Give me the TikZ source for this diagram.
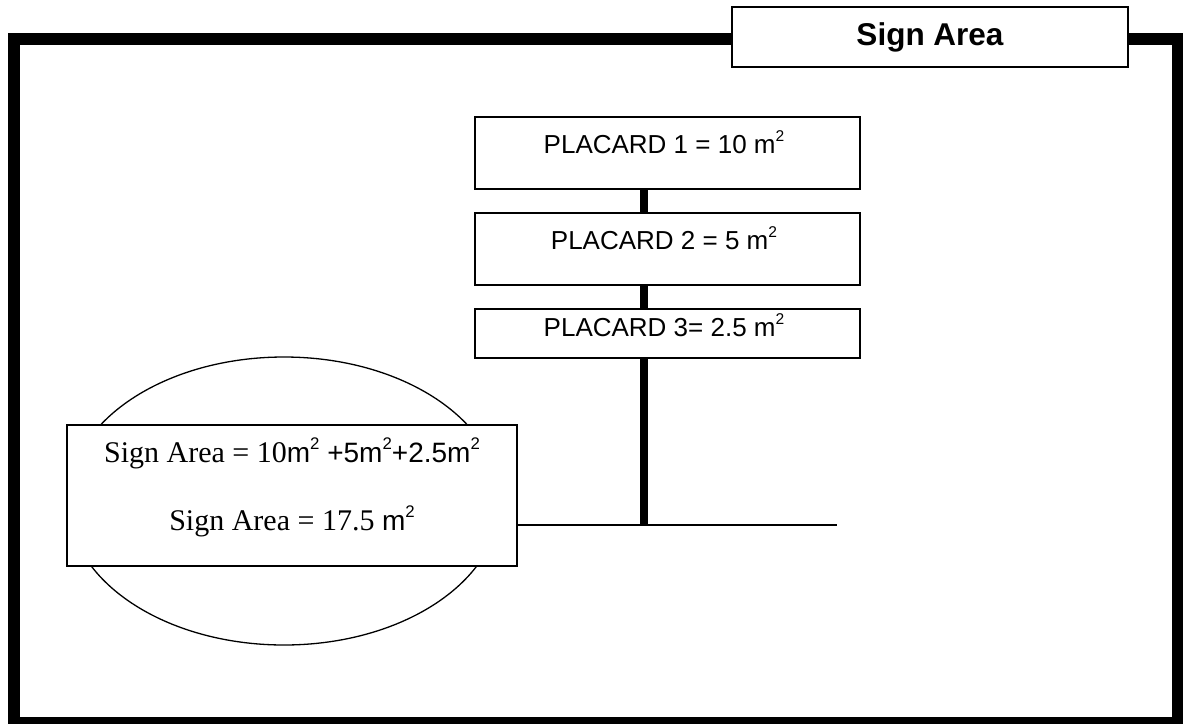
\documentclass[tikz,border=0pt]{standalone}
\usepackage{graphicx}
\usepackage{fontspec}
\setmainfont{Liberation Sans}
\newfontfamily\arialf{Liberation Sans}
\newfontfamily\timesf{Liberation Serif}
\newcommand\mysup[1]{\raisebox{0.45em}{\scalebox{0.6}{#1}}}
\begin{document}
\begin{tikzpicture}[x=1pt,y=-1pt,
  framestyle/.style={line width=12pt, line join=miter},
  titlebox/.style={draw, line width=1.6pt, fill=white, minimum width=396pt, minimum height=60pt, inner sep=0pt,
    font=\arialf\bfseries\fontsize{31.5}{36}\selectfont},
  placardbox/.style={draw, line width=1.6pt, fill=white, minimum width=385pt, inner sep=0pt},
  placardtext/.style={anchor=base, inner sep=0pt, font=\arialf\fontsize{26}{30}\selectfont},
  sumbox/.style={draw, line width=1.8pt, fill=white, minimum width=450pt, minimum height=141pt, inner sep=0pt},
  sumtext/.style={anchor=base, inner sep=0pt, font=\timesf\fontsize{30}{36}\selectfont},
  oval/.style={draw, line width=1.3pt},
  pole/.style={line width=8pt},
  groundline/.style={line width=1.8pt}
]
\useasboundingbox (0,0) rectangle (1183,723);
\fill[white] (0,0) rectangle (1183,723);
% outer frame
\draw[framestyle] (14,39) rectangle (1177.5,723);
% title
\node[titlebox] (title) at (930,37) {Sign Area};
% placards
\node[placardbox, minimum height=72pt] (p1) at (667.5,153) {};
\node[placardbox, minimum height=72pt] (p2) at (667.5,249) {};
\node[placardbox, minimum height=49pt] (p3) at (667.5,333.5) {};
\node[placardtext] (t1) at (664,153) {PLACARD 1 = 10 m\mysup{2}};
\node[placardtext] (t2) at (664,249) {PLACARD 2 = 5 m\mysup{2}};
\node[placardtext] (t3) at (664,336) {PLACARD 3= 2.5 m\mysup{2}};
% pole
\coordinate (gnd) at (644,525);
\coordinate (gend) at (837,525);
\draw[pole] (p1.south -| gnd) -- (p2.north -| gnd);
\draw[pole] (p2.south -| gnd) -- (p3.north -| gnd);
\draw[pole] (p3.south -| gnd) -- (gnd);
% ellipse and sum box
\draw[oval] (284,501) ellipse [x radius=216, y radius=144];
\node[sumbox] (sum) at (292,495.5) {};
\draw[groundline] (sum.east |- gnd) -- (gend);
\node[sumtext] (s1) at (292,462) {Sign Area = 10{\arialf\fontsize{28}{33}\selectfont m\mysup{2} +5m\mysup{2}+2.5m\mysup{2}}};
\node[sumtext] (s2) at (292,530) {Sign Area = 17.5 {\arialf\fontsize{28}{33}\selectfont m\mysup{2}}};
\end{tikzpicture}
\end{document}
